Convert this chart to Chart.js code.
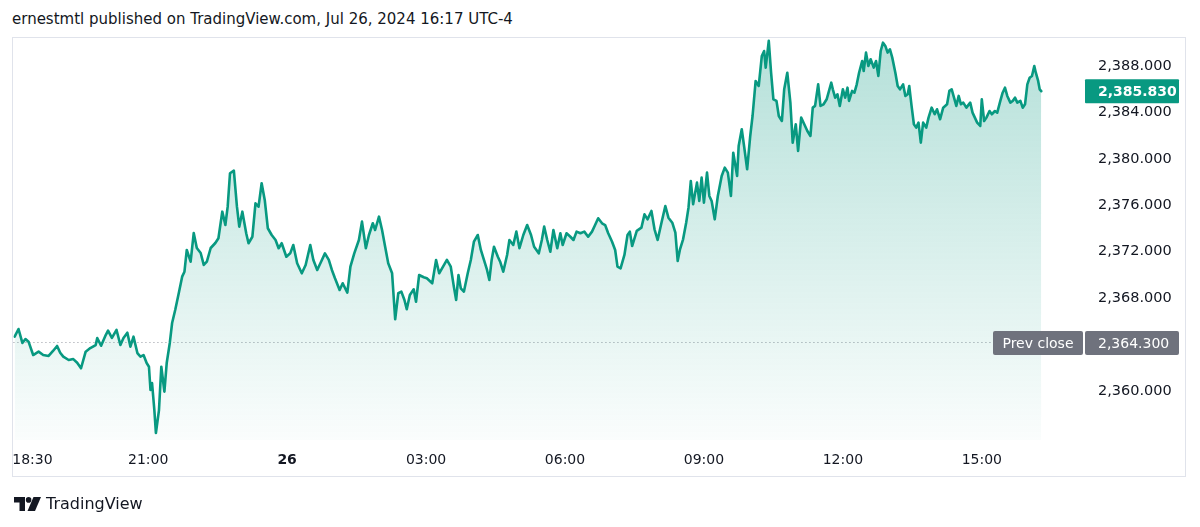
<!DOCTYPE html>
<html>
<head>
<meta charset="utf-8">
<script src="https://cdn.jsdelivr.net/npm/chart.js@4.4.1/dist/chart.umd.min.js"></script>
<style>
  html, body { margin:0; padding:0; background:#fff; }
  body { width:1200px; height:527px; position:relative; overflow:hidden; font-family:"DejaVu Sans", sans-serif; color:#131722; }
  #title { position:absolute; left:12px; top:10px; font-size:15px; white-space:nowrap; }
  #frame { position:absolute; left:12px; top:37px; width:1174px; height:440px; border:1px solid #e0e3eb; box-sizing:border-box; }
  #wrap { position:absolute; left:0; top:0; width:1200px; height:527px; }
  #logo { position:absolute; left:14px; top:494px; display:flex; align-items:center; gap:5px; font-size:16px; }
</style>
</head>
<body>
<div id="title">ernestmtl published on TradingView.com, Jul 26, 2024 16:17 UTC-4</div>
<div id="frame"></div>
<div id="wrap"><canvas id="c" width="1200" height="527"></canvas></div>
<div id="logo">
  <svg width="27" height="14" viewBox="0 0 27 14">
    <path d="M0 0H11V14H5.5V5.5H0Z" fill="#131722"/>
    <circle cx="14.6" cy="2.9" r="2.8" fill="#131722"/>
    <path d="M19.5 0H27L21 14H13.5Z" fill="#131722"/>
  </svg>
  <span>TradingView</span>
</div>
<script>
// minutes counted from Jul 25 18:00 (UTC-4)
const minutesFrom1800 = [
  7,12,17,21,25,31,38,44,51,57,62,66,70,77,83,88,93,99,105,112,114,119,125,128,133,139,144,148,153,157,
  161,166,170,174,178,181,183,185,188,190,194,197,201,204,208,211,215,220,224,227,230,235,239,243,248,252,256,261,267,
  271,276,280,283,286,291,295,298,302,307,310,315,319,323,327,331,335,340,345,349,353,359,364,368,373,379,384,390,394,399,
  404,409,414,418,422,428,432,438,442,447,453,457,462,466,471,474,479,483,487,491,496,500,504,508,512,515,519,524,527,531,
  537,541,548,553,557,562,567,572,576,579,582,585,589,594,598,602,607,611,615,619,622,625,628,633,636,640,645,648,653,657,
  661,666,671,676,680,686,690,693,697,701,705,710,714,717,722,727,731,735,740,745,750,755,759,763,768,772,776,781,785,788,
  792,797,801,804,
  807,813,819,823,827,832,836,840,845,850,854,859,863,866,869,873,877,880,883,886,891,894,897,900,904,907,910,914,918,923,
  927,931,935,938,943,945,949,952,956,960,963,967,971,975,978,980,984,987,990,994,997,1001,1004,1008,1012,1015,1019,1022,
  1026,1030,1034,1038,1041,1044,1048,1051,1055,1059,1065,
  1067,1070,1073,1076,1080,1083,1086,1088,1092,1095,1098,1101,1105,1107,1110,1113,1116,1120,1123,1126,1129,1132,1135,1138,
  1141,1144,1148,1151,1154,1158,1161,1164,1166,1169,1172,1175,1178,1181,1184,1188,1191,1195,1199,1202,1206,1210,1215,1218,
  1221,1224,1227,1230,1233,1236,1240,1245,1248,1251,1254,1258,1260,1263,1266,1270,1273,1277,1280,1284,1287,1290,1293,1297,
  1300,1303,1306,1310,1313,1316,1319,1322,1325,1328,1330,1333,1335,1337
];

const prices = [
  2364.68,2365.34,2364.14,2364.48,2364.25,2363.10,2363.39,2363.10,2363.02,2363.47,2363.88,2363.30,2362.96,2362.67,2362.75,
  2362.44,2361.96,2363.39,2363.70,2363.96,2364.57,2363.90,2364.82,2365.20,2364.57,2365.26,2363.96,2364.57,2365.02,2363.82,
  2364.68,2363.27,2362.96,2363.10,2362.41,2362.09,2360.09,2360.69,2358.36,2356.38,2358.36,2362.09,2359.94,2362.41,2364.14,
  2365.86,2366.98,2368.56,2369.85,2370.28,2372.15,2371.14,2373.61,2372.32,2371.89,2370.86,2371.14,2372.32,2372.75,
  2373.16,2375.45,2374.30,2375.88,2378.76,2378.98,2375.88,2374.16,2375.45,2373.59,2372.73,2373.29,2376.17,2375.88,2377.90,
  2376.46,2374.02,2373.44,2373.01,2372.30,2372.73,2371.57,2371.86,2372.58,2371.00,2370.14,2370.86,2372.58,2371.29,2370.43,
  2371.14,2371.86,2371.29,2370.43,2369.71,2368.70,2369.28,2368.47,2370.71,2371.86,2373.01,2374.59,2372.30,2373.44,2374.45,
  2373.87,2375.02,2373.87,2372.43,2371.00,2370.14,2366.18,2368.42,2368.56,2367.84,2367.04,2368.27,2368.76,2367.69,2369.99,
  2369.80,2369.71,2369.28,2371.29,2370.14,2370.71,2371.29,2370.71,2368.99,2367.84,2369.99,2368.85,2368.56,2370.14,2371.29,
  2372.86,2373.44,2372.15,2371.29,2370.43,2369.56,2371.29,2372.43,2371.57,2371.14,2370.28,2371.72,2373.01,2372.58,2373.73,
  2372.30,2373.44,2374.30,2373.44,2372.43,2371.86,2373.01,2374.16,2373.01,2372.00,2373.87,2372.30,2373.59,2372.58,2373.59,
  2373.29,2373.01,2373.73,2373.59,2373.73,2373.29,2373.73,2374.30,2374.88,2374.45,2374.30,2373.59,2372.86,2372.15,2370.71,
  2370.57,2371.72,2373.44,2373.73,
  2372.49,2373.79,2374.07,2375.22,2374.79,2375.51,2373.93,2373.01,2374.50,2375.94,2374.93,2374.50,2373.64,2371.20,2372.21,
  2373.07,2374.50,2375.79,2378.09,2376.09,2377.95,2376.37,2378.38,2376.22,2378.81,2376.80,2376.37,2374.79,2376.80,2378.52,
  2379.24,2378.81,2376.80,2380.53,2378.52,2381.11,2382.55,2381.11,2379.10,2381.97,2383.69,2386.71,2386.28,2388.86,2389.29,
  2387.86,2390.16,2387.42,2385.13,2384.99,2383.69,2383.26,2385.99,2387.42,2384.84,2381.39,2382.98,2380.68,2383.55,2382.98,
  2382.40,2381.97,2384.41,2384.56,2386.42,2384.56,2384.70,2385.13,2386.56,
  2385.99,2385.27,2385.56,2384.56,2385.99,2385.27,2386.13,2384.99,2385.85,2385.70,2386.42,2387.42,2388.43,2387.57,2389.15,
  2388.00,2388.58,2387.86,2388.43,2387.14,2389.29,2390.01,2389.73,2389.15,2389.44,2388.72,2387.42,2386.28,2385.99,2386.42,
  2385.42,2385.56,2386.28,2384.56,2382.98,2382.69,2383.12,2381.39,2383.12,2382.69,2383.55,2384.41,2383.84,2384.27,2383.41,
  2384.41,2384.70,2385.85,2385.99,2385.27,2384.56,2385.42,2384.70,2384.84,2384.41,2384.84,2383.98,2383.55,2383.12,2382.83,
  2385.13,2383.26,2383.55,2384.12,2383.84,2384.12,2383.98,2384.99,2385.70,2386.13,2385.42,2384.84,2384.99,2385.27,2384.84,
  2384.99,2384.41,2384.70,2386.42,2386.99,2387.14,2388.00,2387.42,2386.71,2385.99,2385.83
];

const xTickValues = [30, 180, 360, 540, 720, 900, 1080, 1260];
const xTickLabels = ["18:30", "21:00", "26", "03:00", "06:00", "09:00", "12:00", "15:00"];
const yTickValues = [2360, 2364, 2368, 2372, 2376, 2380, 2384, 2388];
const prevClose = 2364.3;
const lastPrice = prices[prices.length - 1];

if (minutesFrom1800.length !== prices.length) console.error("length mismatch", minutesFrom1800.length, prices.length);

const GREEN = "#089981";
const FONT = "DejaVu Sans";
const fmt = v => v.toLocaleString("en-US", { minimumFractionDigits: 3, maximumFractionDigits: 3 });

function roundBox(ctx, x, y, w, h, r, color) {
  ctx.fillStyle = color;
  ctx.beginPath();
  ctx.roundRect(x, y, w, h, r);
  ctx.fill();
}

const priceLines = {
  id: "priceLines",
  beforeDatasetsDraw(chart) {
    const { ctx, chartArea, scales } = chart;
    const y = Math.round(scales.y.getPixelForValue(prevClose)) + 1.5;
    ctx.save();
    ctx.strokeStyle = "#9598a1";
    ctx.lineWidth = 1;
    ctx.setLineDash([1, 3]);
    ctx.beginPath();
    ctx.moveTo(chartArea.left, y);
    ctx.lineTo(993, y);
    ctx.stroke();
    ctx.restore();
  },
  afterDraw(chart) {
    const { ctx, chartArea, scales } = chart;
    ctx.save();
    ctx.font = `14px "${FONT}"`;
    ctx.textBaseline = "middle";
    // prev close
    const yp = scales.y.getPixelForValue(prevClose) + 2;
    roundBox(ctx, 993, yp - 12, 90, 24, 2, "#6f727d");
    roundBox(ctx, chartArea.right, yp - 12, 94, 24, 2, "#6f727d");
    ctx.fillStyle = "#fff";
    ctx.textAlign = "center";
    ctx.fillText("Prev close", 1038, yp + 1);
    ctx.textAlign = "left";
    ctx.fillText(fmt(prevClose), chartArea.right + 13, yp + 1);
    // last price
    const yl = scales.y.getPixelForValue(lastPrice);
    roundBox(ctx, chartArea.right, yl - 12, 94, 24, 1, GREEN);
    ctx.fillStyle = "#fff";
    ctx.font = `bold 14px "${FONT}"`;
    ctx.fillText(fmt(lastPrice), chartArea.right + 13, yl + 1);
    ctx.restore();
  }
};

new Chart(document.getElementById("c"), {
  type: "line",
  data: {
    datasets: [{
      data: minutesFrom1800.map((t, i) => ({ x: t, y: prices[i] })),
      borderColor: GREEN,
      borderWidth: 2.6,
      borderJoinStyle: "round",
      borderCapStyle: "round",
      pointRadius: 0,
      tension: 0,
      fill: "start",
      backgroundColor(ctx) {
        const area = ctx.chart.chartArea;
        if (!area) return "rgba(8,153,129,0.2)";
        const g = ctx.chart.ctx.createLinearGradient(0, area.top, 0, area.bottom);
        g.addColorStop(0, "rgba(8,153,129,0.30)");
        g.addColorStop(1, "rgba(8,153,129,0.02)");
        return g;
      }
    }]
  },
  options: {
    responsive: false,
    animation: false,
    layout: { padding: { left: 13, top: 38, right: 13, bottom: 50 } },
    plugins: { legend: { display: false }, tooltip: { enabled: false } },
    scales: {
      x: {
        type: "linear",
        min: 5.44,
        max: 1393.7,
        grid: { display: false, drawTicks: false },
        border: { display: false },
        afterBuildTicks(scale) { scale.ticks = xTickValues.map(v => ({ value: v })); },
        afterFit(scale) { scale.height = 37; },
        ticks: {
          padding: 12,
          maxRotation: 0,
          autoSkip: false,
          color: "#131722",
          font: ctx => ({ family: FONT, size: 14, weight: ctx.tick && ctx.tick.value === 360 ? "bold" : "normal" }),
          callback: v => xTickLabels[xTickValues.indexOf(v)]
        }
      },
      y: {
        position: "right",
        min: 2355.78,
        max: 2390.41,
        grid: { display: false, drawTicks: false },
        border: { display: false },
        afterBuildTicks(scale) { scale.ticks = yTickValues.map(v => ({ value: v })); },
        afterFit(scale) { scale.width = 102; },
        ticks: {
          padding: 13,
          color: "#131722",
          font: { family: FONT, size: 14.5 },
          callback: v => fmt(v)
        }
      }
    }
  },
  plugins: [priceLines]
});
</script>
</body>
</html>
